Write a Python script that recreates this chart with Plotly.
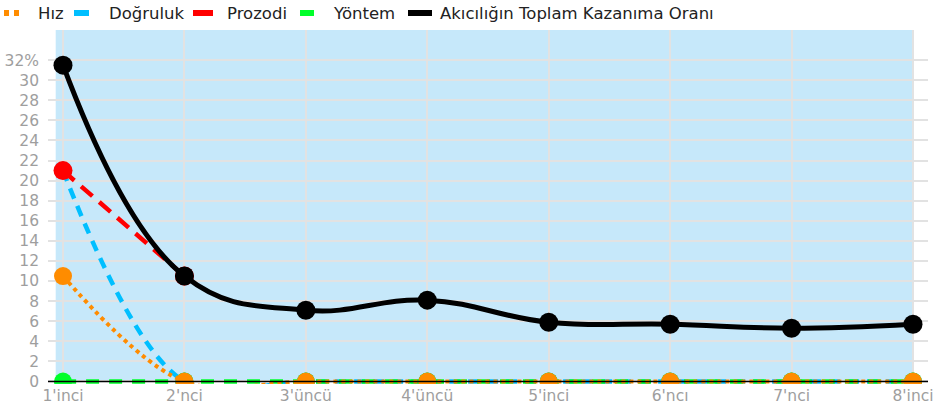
import plotly.graph_objects as go

categories = ["1'inci", "2'nci", "3'üncü", "4'üncü", "5'inci", "6'ncı", "7'nci", "8'inci"]
hiz = [10.5, 0, 0, 0, 0, 0, 0, 0]
dogruluk = [21, 0, 0, 0, 0, 0, 0, 0]
prozodi = [21, 10.5, None, None, None, None, None, None]
yontem = [0, 0, 0, 0, 0, 0, 0, 0]
toplam = [31.5, 10.5, 7.1, 8.1, 5.9, 5.7, 5.3, 5.7]
names = ["Hız", "Doğruluk", "Prozodi", "Yöntem", "Akıcılığın Toplam Kazanıma Oranı"]
colors = ["#ff8c00", "#00bfff", "#ff0000", "#00ff2a", "#000000"]
y_ticks = list(range(0, 34, 2))
y_ticktext = [str(v) for v in y_ticks[:-1]] + ["32%"]

W, H = 945, 411
ML, MR, MT, MB = 48, 17, 30, 27
PW, PH = W - ML - MR, H - MT - MB

fig = go.Figure()

def add(vals, idx, dash, width, msize, smooth):
    fig.add_trace(go.Scatter(
        x=categories, y=vals, name=names[idx], mode="lines+markers",
        line=dict(color=colors[idx], width=width, dash=dash, shape="spline", smoothing=smooth),
        marker=dict(color=colors[idx], size=msize),
        showlegend=False, hoverinfo="skip", connectgaps=False))

add(dogruluk, 1, "11px,8px", 4.5, 18, 1.0)
add(yontem, 3, "13px,10px", 4.5, 18, 1.0)
add(prozodi, 2, "15px,9px", 4.5, 19, 1.0)
add(hiz, 0, "4px,4px", 4, 18, 1.0)
add(toplam, 4, "solid", 5, 19, 1.2)

def px2x(p):
    return (p - ML) / PW

def py2y(p):
    return (H - MB - p) / PH

shapes = [
    dict(type="rect", xref="x", yref="y", x0=-0.06, x1=7, y0=0, y1=35,
         fillcolor="#c6e8fa", line=dict(width=0), layer="below"),
    dict(type="line", xref="paper", yref="y", x0=0, x1=1, y0=0, y1=0,
         line=dict(color="#000000", width=1.5), layer="above"),
]
annotations = []
sym_x = [(4, 21), (74, 89), (193, 213), (300, 314), (408, 432)]
text_x = [36, 107, 225, 331, 438]
ly = 14
for i in range(5):
    x0, x1 = sym_x[i]
    shapes.append(dict(type="line", xref="paper", yref="paper",
                       x0=px2x(x0), x1=px2x(x1), y0=py2y(ly - 1), y1=py2y(ly - 1),
                       line=dict(color=colors[i], width=6,
                                 dash="5px,5px" if i == 0 else "solid")))
    annotations.append(dict(xref="paper", yref="paper", x=px2x(text_x[i]), y=py2y(ly),
                            xanchor="left", yanchor="middle", showarrow=False,
                            text=names[i], font=dict(size=16.5, color="#222222",
                                                     family="DejaVu Sans")))

fig.update_layout(
    width=W, height=H,
    margin=dict(l=ML, r=MR, t=MT, b=MB, autoexpand=False),
    paper_bgcolor="white", plot_bgcolor="white",
    shapes=shapes, annotations=annotations,
    showlegend=False,
    xaxis=dict(type="category", range=[-0.1235, 7.1235], showgrid=True,
               gridcolor="#e2e2e2", gridwidth=1.5, zeroline=False, showline=False,
               tickfont=dict(family="DejaVu Sans", size=15.5, color="#9e9e9e"),
               ticks="", fixedrange=True, automargin=False),
    yaxis=dict(range=[-0.25, 35], tickvals=y_ticks, ticktext=y_ticktext,
               showgrid=True, gridcolor="#e2e2e2", gridwidth=1.5, zeroline=False,
               showline=False, ticks="", ticklabelstandoff=8,
               tickfont=dict(family="DejaVu Sans", size=15.5, color="#9e9e9e"),
               fixedrange=True, automargin=False),
)

fig.write_html("out.html", config={"displayModeBar": False},
               post_script="document.body.style.margin='0px';document.body.style.overflow='hidden';")
